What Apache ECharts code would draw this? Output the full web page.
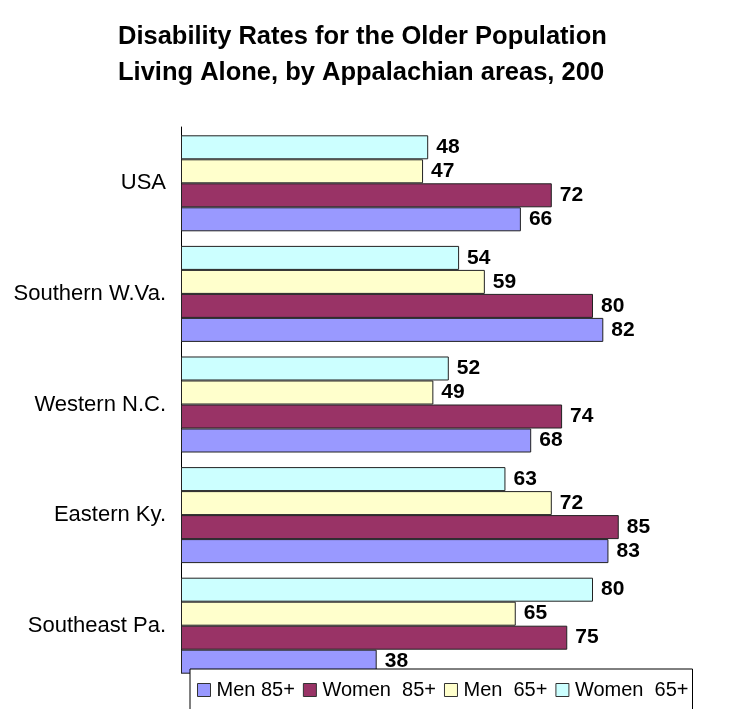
<!DOCTYPE html>
<html>
<head>
<meta charset="utf-8">
<script src="https://cdn.jsdelivr.net/npm/echarts@6/dist/echarts.min.js"></script>
<style>
html,body{margin:0;padding:0;background:#fff;}
#chart{width:735px;height:709px;}
</style>
</head>
<body>
<div id="chart"></div>
<script>
const titleText = 'Disability Rates for the Older Population\nLiving Alone, by Appalachian areas, 200';
const categories = ['USA', 'Southern W.Va.', 'Western N.C.', 'Eastern Ky.', 'Southeast Pa.'];
const legendNames = ['Men 85+', 'Women  85+', 'Men  65+', 'Women  65+'];
const men85 = [66, 82, 68, 83, 38];
const women85 = [72, 80, 74, 85, 75];
const men65 = [47, 59, 49, 72, 65];
const women65 = [48, 54, 52, 63, 80];
const colorMen85 = '#9999FF';
const colorWomen85 = '#993366';
const colorMen65 = '#FFFFCC';
const colorWomen65 = '#CCFFFF';

const FONT = '"Liberation Sans", Arial, Helvetica, sans-serif';
// drawing order top-to-bottom within each group
const drawOrder = [
  {name: 'Women  65+', data: women65, color: colorWomen65},
  {name: 'Men  65+', data: men65, color: colorMen65},
  {name: 'Women  85+', data: women85, color: colorWomen85},
  {name: 'Men 85+', data: men85, color: colorMen85}
];

const chart = echarts.init(document.getElementById('chart'), null, {renderer: 'canvas'});
chart.setOption({
  animation: false,
  backgroundColor: '#ffffff',
  title: {
    text: titleText,
    left: 118,
    top: 19,
    padding: 0,
    textStyle: {fontFamily: FONT, fontSize: 25.5, fontWeight: 'bold', color: '#000', lineHeight: 36}
  },
  legend: {
    data: legendNames,
    left: 190,
    top: 669,
    padding: [11, 4, 20, 7],
    itemGap: 8,
    itemWidth: 13,
    itemHeight: 13,
    borderColor: '#000',
    borderWidth: 1,
    backgroundColor: '#fff',
    icon: 'rect',
    itemStyle: {borderColor: '#333', borderWidth: 1},
    textStyle: {fontFamily: FONT, fontSize: 20, color: '#000', padding: [0, 0, 0, 1]},
    z: 10
  },
  grid: [
    {left: 181, top: 128, width: 515, height: 553, containLabel: false},
    {left: 181, top: 127, width: 515, height: 546, containLabel: false}
  ],
  xAxis: [
    {type: 'value', min: 0, max: 100, show: false, gridIndex: 0},
    {type: 'value', min: 0, max: 100, show: false, gridIndex: 1}
  ],
  yAxis: [
    {
      type: 'category',
      gridIndex: 0,
      data: categories,
      inverse: true,
      axisLine: {show: false},
      axisTick: {show: false},
      axisLabel: {fontFamily: FONT, fontSize: 22, color: '#000', margin: 15}
    },
    {
      type: 'category',
      gridIndex: 1,
      data: categories,
      inverse: true,
      axisLine: {show: true, lineStyle: {color: '#000', width: 1}},
      axisTick: {show: false},
      axisLabel: {show: false}
    }
  ],
  series: drawOrder.map(s => ({
    name: s.name,
    type: 'bar',
    xAxisIndex: 0,
    yAxisIndex: 0,
    data: s.data,
    barGap: '0%',
    barCategoryGap: '13.2%',
    itemStyle: {color: s.color, borderColor: '#222', borderWidth: 1},
    label: {
      show: true, position: 'right', distance: 8,
      fontFamily: FONT, fontSize: 21, fontWeight: 'bold', color: '#000'
    }
  }))
});
</script>
</body>
</html>
